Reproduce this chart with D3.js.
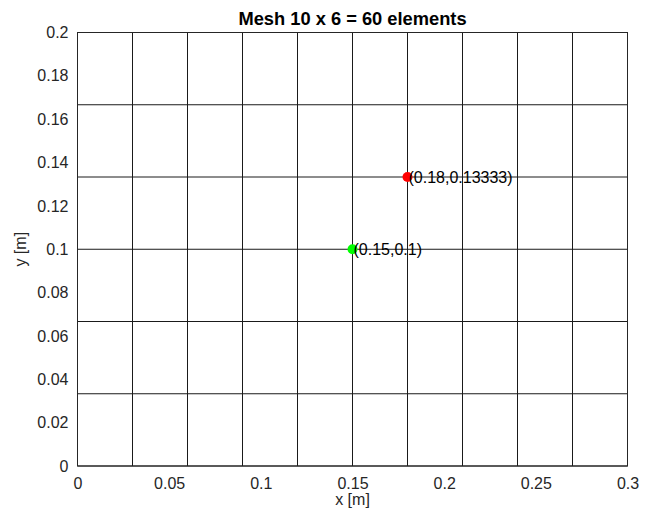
<!DOCTYPE html>
<html><head><meta charset="utf-8">
<script src="https://cdn.jsdelivr.net/npm/d3@7"></script>
<style>body{margin:0;background:#fff}svg{display:block}text{font-family:"Liberation Sans",Arial,Helvetica,sans-serif}</style>
</head><body>
<script>
const titleText = "Mesh 10 x 6 = 60 elements";
const nx = 10, ny = 6;
const Lx = 0.3, Ly = 0.2;
const xTicks = [0, 0.05, 0.1, 0.15, 0.2, 0.25, 0.3];
const yTicks = [0, 0.02, 0.04, 0.06, 0.08, 0.1, 0.12, 0.14, 0.16, 0.18, 0.2];
const xGrid = d3.range(nx + 1).map(i => i * Lx / nx);
const yGrid = d3.range(ny + 1).map(j => j * Ly / ny);
const points = [
  {x: 0.18, y: 0.13333, label: "(0.18,0.13333)", color: "#ff0000"},
  {x: 0.15, y: 0.1, label: "(0.15,0.1)", color: "#00ff00"}
];

const W = 651, H = 518;
const m = {left: 77.5, top: 32.5, right: 627.5, bottom: 466};
const svg = d3.select("body").append("svg").attr("width", W).attr("height", H);
const x = d3.scaleLinear().domain([0, Lx]).range([m.left, m.right]);
const y = d3.scaleLinear().domain([0, Ly]).range([m.bottom, m.top]);

// mesh lines
svg.append("g").selectAll("line").data(xGrid).join("line")
  .attr("x1", d => x(d)).attr("x2", d => x(d)).attr("y1", m.top).attr("y2", m.bottom)
  .attr("stroke", "#1a1a1a").attr("stroke-width", 1);
svg.append("g").selectAll("line").data(yGrid).join("line")
  .attr("y1", d => y(d)).attr("y2", d => y(d)).attr("x1", m.left).attr("x2", m.right)
  .attr("stroke", "#1a1a1a").attr("stroke-width", 1);

// box
svg.append("rect").attr("x", m.left).attr("y", m.top).attr("width", m.right - m.left).attr("height", m.bottom - m.top)
  .attr("fill", "none").attr("stroke", "#262626").attr("stroke-width", 1);

const fmt = d => String(+d.toFixed(4));
const xAxis = svg.append("g").attr("transform", `translate(0,${m.bottom})`)
  .call(d3.axisBottom(x).tickValues(xTicks).tickSize(0).tickPadding(11.5).tickFormat(fmt));
const yAxis = svg.append("g").attr("transform", `translate(${m.left},0)`)
  .call(d3.axisLeft(y).tickValues(yTicks).tickSize(0).tickPadding(9).tickFormat(fmt));
[xAxis, yAxis].forEach(a => {
  a.select(".domain").remove();
  a.selectAll("text").attr("font-size", 16).attr("fill", "#262626").attr("font-family", "Liberation Sans, Arial, sans-serif");
});

// points
svg.append("g").selectAll("circle").data(points).join("circle")
  .attr("cx", d => x(d.x)).attr("cy", d => y(d.y)).attr("r", 5).attr("fill", d => d.color);
svg.append("g").selectAll("text").data(points).join("text")
  .attr("x", d => x(d.x) + 1).attr("y", d => y(d.y)).attr("dy", "0.35em")
  .attr("font-size", 16).attr("fill", "#000").text(d => d.label);

// title and labels
svg.append("text").attr("x", (m.left + m.right) / 2).attr("y", 25).attr("text-anchor", "middle")
  .attr("font-size", 18.3).attr("font-weight", "bold").attr("fill", "#000").text(titleText);
svg.append("text").attr("x", (m.left + m.right) / 2).attr("y", 505).attr("text-anchor", "middle")
  .attr("font-size", 16).attr("fill", "#262626").text("x [m]");
svg.append("text").attr("transform", `translate(26,${(m.top + m.bottom) / 2}) rotate(-90)`).attr("text-anchor", "middle")
  .attr("font-size", 16).attr("fill", "#262626").text("y [m]");
</script>
</body></html>
